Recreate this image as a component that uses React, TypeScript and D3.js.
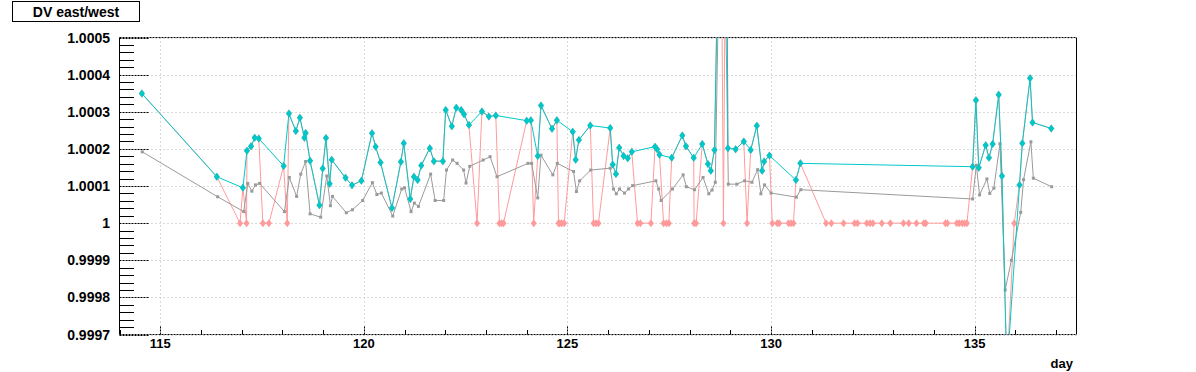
import React from 'react';
import * as d3 from 'd3';

// ---- data (ratio DV east/west vs day) ----
const cyanDays = [114.55,116.39,117.03,117.13,117.23,117.32,117.42,118.03,118.16,118.33,118.43,118.54,118.57,118.68,118.91,118.99,119.07,119.16,119.21,119.55,119.71,119.94,120.20,120.29,120.41,120.69,120.91,120.98,121.14,121.23,121.32,121.41,121.62,121.72,121.94,122.01,122.16,122.27,122.39,122.46,122.58,122.90,123.07,123.24,124.00,124.10,124.27,124.35,124.62,124.74,125.13,125.20,125.28,125.56,126.05,126.11,126.19,126.27,126.38,126.48,126.58,127.15,127.20,127.26,127.56,127.82,127.91,128.10,128.31,128.45,128.52,128.61,128.76,128.90,128.94,129.13,129.33,129.50,129.65,129.78,129.83,129.96,130.61,130.72,134.95,135.03,135.10,135.27,135.35,135.44,135.59,135.67,135.79,136.10,136.17,136.36,136.42,136.88];
const cyanValues = [1.000349,1.000125,1.000095,1.000195,1.000207,1.000230,1.000228,1.000154,1.000295,1.000248,1.000284,1.000230,1.000243,1.000168,1.000048,1.000147,1.000229,1.000106,1.000171,1.000122,1.000102,1.000114,1.000242,1.000206,1.000163,1.000041,1.000165,1.000215,1.000065,1.000125,1.000116,1.000155,1.000202,1.000167,1.000167,1.000305,1.000261,1.000311,1.000305,1.000293,1.000264,1.000301,1.000287,1.000290,1.000276,1.000277,1.000181,1.000317,1.000254,1.000277,1.000246,1.000171,1.000224,1.000263,1.000256,1.000158,1.000132,1.000203,1.000181,1.000175,1.000192,1.000206,1.000199,1.000184,1.000176,1.000236,1.000207,1.000176,1.000213,1.000159,1.000141,1.000197,1.0011,1.0011,1.000202,1.000199,1.000220,1.000197,1.000262,1.000141,1.000166,1.000182,1.000116,1.000161,1.000152,1.000331,1.000149,1.000210,1.000176,1.000213,1.000346,1.000127,0.9996,1.000103,1.000215,1.000390,1.000271,1.000255];

const grayDays = [114.56,116.41,117.05,117.15,117.25,117.34,117.44,118.05,118.17,118.35,118.45,118.57,118.68,118.94,119.09,119.18,119.23,119.57,119.72,119.97,120.21,120.32,120.43,120.71,120.93,121.00,121.16,121.24,121.34,121.64,121.75,121.96,122.03,122.18,122.29,122.45,122.51,122.60,122.93,123.10,123.27,124.03,124.12,124.27,124.35,124.64,124.75,125.15,125.22,125.30,125.57,126.05,126.13,126.20,126.28,126.40,126.50,126.60,127.17,127.24,127.30,127.58,127.84,127.92,128.12,128.33,128.47,128.55,128.63,128.80,128.95,129.16,129.35,129.53,129.67,129.75,129.84,130.00,130.62,130.73,134.95,135.04,135.12,135.30,135.37,135.47,135.62,135.75,135.90,136.13,136.20,136.38,136.44,136.89];
const grayValues = [1.000192,1.000071,1.000031,1.000107,1.000086,1.000103,1.000107,1.000031,1.000123,1.000072,1.000132,1.000166,1.000025,1.000016,1.000127,1.000047,1.000072,1.000028,1.000036,1.000061,1.000109,1.000077,1.000081,1.000019,1.000092,1.000095,1.000031,1.000054,1.000045,1.000132,1.000061,1.000061,1.000143,1.000170,1.000161,1.000143,1.000108,1.000153,1.000170,1.000179,1.000125,1.000161,1.000161,1.000068,1.000183,1.000130,1.000161,1.000139,1.000085,1.000114,1.000143,1.000148,1.000092,1.000079,1.000092,1.000081,1.000092,1.000101,1.000114,1.000092,1.000061,1.000092,1.000130,1.000098,1.000090,1.000123,1.000079,1.000089,1.000110,1.0012,1.000105,1.000105,1.000114,1.000110,1.000144,1.000079,1.000103,1.000081,1.000070,1.000090,1.000065,1.000156,1.000076,1.000119,1.000080,1.000094,1.000214,0.99982,0.9999,1.000029,1.000117,1.000219,1.000121,1.000098];

// days where the red series sits at exactly 1 (otherwise it follows the cyan series)
const redUnitDays = [116.96,117.12,117.52,117.67,118.12,122.78,123.33,123.38,123.43,124.17,124.78,124.81,124.86,124.92,125.64,125.70,125.76,126.72,126.79,127.05,127.36,127.43,127.49,128.11,128.16,128.83,129.41,130.03,130.15,130.20,130.43,130.49,130.55,131.35,131.48,131.78,132.05,132.12,132.35,132.43,132.50,132.72,132.93,133.25,133.38,133.57,133.75,133.80,134.28,134.33,134.56,134.62,134.69,134.75,134.81,135.97];
const redUnitValue = 1.0;

const yTickValues = [0.9997,0.9998,0.9999,1.0,1.0001,1.0002,1.0003,1.0004,1.0005];
const yTickLabels = ['0.9997','0.9998','0.9999','1','1.0001','1.0002','1.0003','1.0004','1.0005'];
const xTickValues = [115,120,125,130,135];
const xTickLabels = ['115','120','125','130','135'];
const title = 'DV east/west';
const xTitle = 'day';

const W = 1196, H = 372;
const L = 119.5, R = 1076.5, T = 37.5, B = 334.5;
const CYAN = '#00c8c8', RED = '#ff9a9a', GRAY = '#9a9a9a';
const FONT = '"Liberation Sans", Arial, Helvetica, sans-serif';

export default function App() {
  const x = d3.scaleLinear().domain([114.0, 137.5]).range([L, R]);
  const y = d3.scaleLinear().domain([0.9997, 1.0005]).range([B, T]);

  const cyan: [number, number][] = cyanDays.map((d, i) => [d, cyanValues[i]]);
  const gray: [number, number][] = grayDays.map((d, i) => [d, grayValues[i]]);
  const redOnly: [number, number][] = redUnitDays.map(d => [d, redUnitValue]);
  const red: [number, number][] = [...cyan, ...redOnly].sort((a, b) => a[0] - b[0]);

  const line = d3.line<[number, number]>().x(d => x(d[0])).y(d => y(d[1]));
  const diamond = 'M0,-4L3,0L0,4L-3,0Z';

  const minorY = d3.range(0, 41).map(i => 0.9997 + i * 0.00002);
  const minorX = d3.range(114, 138, 1).filter(v => v >= 114 && v <= 137.5);

  return (
    <svg width={W} height={H} style={{ position: 'absolute', left: 0, top: 0, background: '#fff' }}
      fontFamily={FONT}>
      <defs>
        <clipPath id="plot"><rect x={L} y={T} width={R - L} height={B - T} /></clipPath>
      </defs>
      <rect x={0} y={0} width={W} height={H} fill="#fff" />
      {/* grid */}
      {xTickValues.map(v => (
        <line key={'gx' + v} x1={Math.round(x(v)) + 0.5} x2={Math.round(x(v)) + 0.5} y1={T} y2={B}
          stroke="#b4b4b4" strokeWidth={1} strokeDasharray="1,3" />
      ))}
      {yTickValues.map(v => (
        <line key={'gy' + v} x1={L} x2={R} y1={Math.round(y(v)) + 0.5} y2={Math.round(y(v)) + 0.5}
          stroke="#b4b4b4" strokeWidth={1} strokeDasharray="1,3" />
      ))}
      {/* frame */}
      <line x1={L} x2={R} y1={T} y2={T} stroke="#000" strokeDasharray="2,1" />
      <line x1={L} x2={R} y1={B} y2={B} stroke="#000" strokeDasharray="2,1" />
      <line x1={L} x2={L} y1={T} y2={B} stroke="#000" />
      <line x1={R} x2={R} y1={T} y2={B} stroke="#000" />
      {/* y ticks */}
      {minorY.map((v, i) => (
        i % 5 === 0 ? (
          <line key={'ty' + i} x1={L} x2={L + 29} y1={Math.round(y(v)) + 0.5} y2={Math.round(y(v)) + 0.5}
            stroke="#000" strokeDasharray="2,1" />
        ) : (
          <line key={'ty' + i} x1={L} x2={L + 14.5} y1={Math.round(y(v)) + 0.5} y2={Math.round(y(v)) + 0.5}
            stroke="#000" />
        )
      ))}
      {yTickValues.map((v, i) => (
        <text key={'ly' + i} x={110} y={y(v)} dy="0.36em" textAnchor="end" fontSize={14} fontWeight="bold">{yTickLabels[i]}</text>
      ))}
      {/* x ticks */}
      {minorX.map(v => (
        xTickValues.includes(v) ? (
          <line key={'tx' + v} x1={Math.round(x(v)) + 0.5} x2={Math.round(x(v)) + 0.5} y1={B} y2={B - 9}
            stroke="#000" strokeDasharray="2,1" />
        ) : (
          <line key={'tx' + v} x1={Math.round(x(v)) + 0.5} x2={Math.round(x(v)) + 0.5} y1={B} y2={B - 4.5}
            stroke="#000" />
        )
      ))}
      {xTickValues.map((v, i) => (
        <text key={'lx' + i} x={x(v)} y={348} textAnchor="middle" fontSize={13} fontWeight="bold">{xTickLabels[i]}</text>
      ))}
      <text x={1073} y={368} textAnchor="end" fontSize={13} fontWeight="bold">{xTitle}</text>
      {/* series */}
      <g clipPath="url(#plot)">
        <path d={line(red) || ''} fill="none" stroke={RED} strokeWidth={1} />
        {red.map((d, i) => (
          <path key={'mr' + i} d={diamond} transform={`translate(${x(d[0])},${y(d[1])})`} fill={RED} />
        ))}
        <path d={line(gray) || ''} fill="none" stroke={GRAY} strokeWidth={1} />
        {gray.map((d, i) => (
          <rect key={'mg' + i} x={x(d[0]) - 1.5} y={y(d[1]) - 1.5} width={3} height={3} fill={GRAY} />
        ))}
        <path d={line(cyan) || ''} fill="none" stroke={CYAN} strokeWidth={1} />
        {cyan.map((d, i) => (
          <path key={'mc' + i} d={diamond} transform={`translate(${x(d[0])},${y(d[1])})`} fill={CYAN} />
        ))}
      </g>
      {/* title box */}
      <rect x={12.5} y={1.5} width={127} height={20} fill="#fff" stroke="#000" />
      <text x={76} y={16.5} textAnchor="middle" fontSize={14} fontWeight="bold">{title}</text>
    </svg>
  );
}
